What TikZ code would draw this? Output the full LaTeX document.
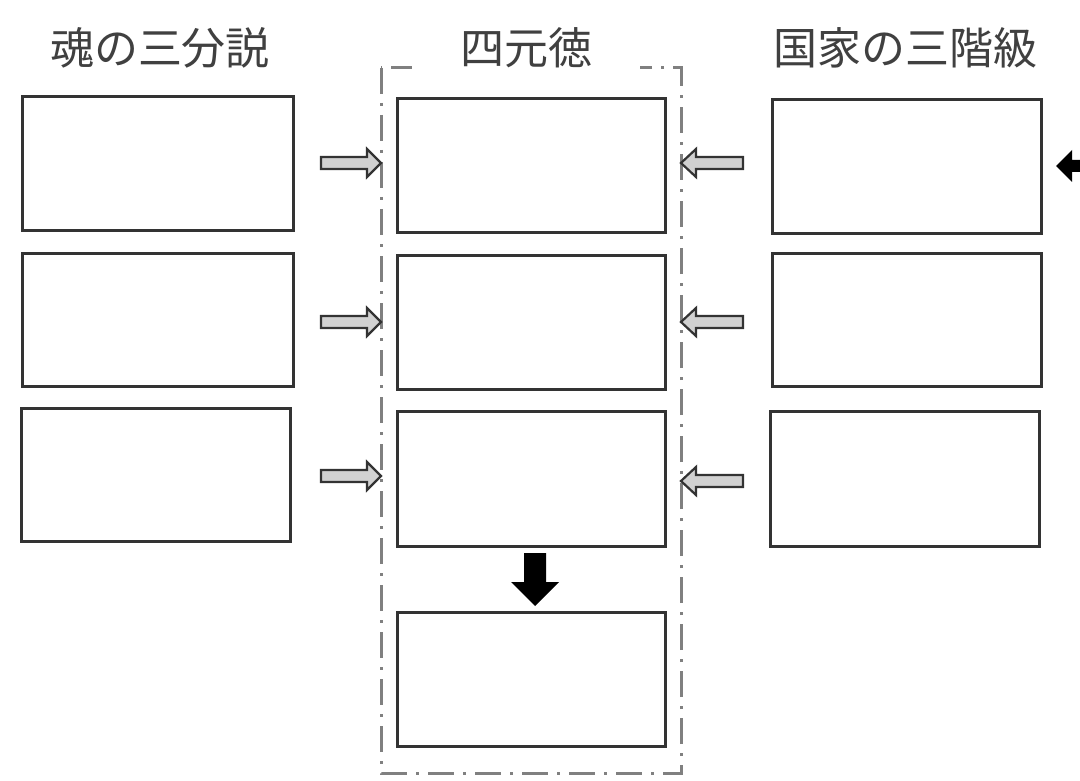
\documentclass[tikz,border=0pt]{standalone}
\usepackage{fontspec}
\newfontfamily\cjk{Noto Sans CJK JP}
\begin{document}
\begin{tikzpicture}[x=1pt,y=-1pt,
  box/.style={draw=black!80,line width=3pt},
  garrow/.style={draw=black!80,fill=black!18,line width=2.2pt,line join=miter},
  barrow/.style={fill=black,draw=none},
  ttl/.style={font=\cjk\fontsize{44}{44}\selectfont,text=black!75,fill=white,inner sep=2pt}]
\useasboundingbox (0,0) rectangle (1080,781);
\draw[draw=black!50,line width=3pt,dash pattern=on 26pt off 9pt on 3pt off 9pt] (381,68) rectangle (681,773);
\node[ttl] (t1) at (160,48) {魂の三分説};
\node[ttl,inner xsep=48pt] (t2) at (526,48) {四元徳};
\node[ttl] (t3) at (905,48) {国家の三階級};
\foreach \n/\a/\b/\c/\d in {l1/22/97/293/231,l2/22/253/293/386,l3/21/408/290/541,
  m1/397/99/665/233,m2/397/255/665/389,m3/397/411/665/546,m4/397/612/665/746,
  r1/772/100/1041/234,r2/772/253/1041/386,r3/770/411/1039/546}
  \draw[box] (\a,\b) rectangle (\c,\d) coordinate[pos=0.5] (\n);
\foreach \y in {163,322,476}
  \draw[garrow] (321,\y-6) -- (367,\y-6) -- (367,\y-14) -- (381,\y) -- (367,\y+14) -- (367,\y+6) -- (321,\y+6) -- cycle;
\foreach \y in {163,322,481}
  \draw[garrow] (743,\y-6) -- (696,\y-6) -- (696,\y-14) -- (681,\y) -- (696,\y+14) -- (696,\y+6) -- (743,\y+6) -- cycle;
\fill[barrow] (524,553) -- (546,553) -- (546,582) -- (559,582) -- (535,606) -- (511,582) -- (524,582) -- cycle;
\fill[barrow] (1056,166) -- (1072,150) -- (1072,160) -- (1080,160) -- (1080,172) -- (1072,172) -- (1072,182) -- cycle;
\end{tikzpicture}
\end{document}
